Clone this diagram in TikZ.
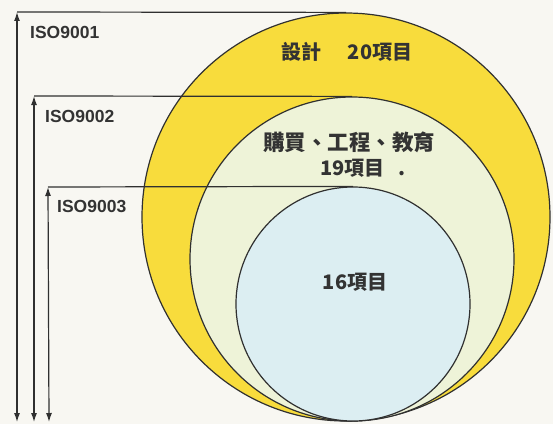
\documentclass[tikz,border=0pt]{standalone}
\usepackage{fontspec}
\setsansfont{Liberation Sans}
\newfontfamily\cjk{Noto Sans CJK TC}
\usetikzlibrary{arrows.meta}
\definecolor{bgc}{HTML}{F8F7F2}
\definecolor{yel}{HTML}{F8DC3C}
\definecolor{pale}{HTML}{EEF3D8}
\definecolor{blu}{HTML}{DCEEF2}
\definecolor{ink}{HTML}{303030}
\definecolor{txt}{HTML}{333333}
\begin{document}
\begin{tikzpicture}[x=1pt,y=1pt,
  ring/.style={circle,draw=ink,line width=1.2pt,inner sep=0pt},
  isolabel/.style={anchor=west,inner sep=0pt,text=txt,font=\sffamily\bfseries\fontsize{17.5}{17.5}\selectfont},
  cjklabel/.style={inner sep=0pt,text=txt,font=\cjk\bfseries\fontsize{20}{20}\selectfont},
  lead/.style={draw=ink,line width=1.2pt},
  bothtips/.style={{Latex[length=9pt,width=6pt]}-{Latex[length=9pt,width=6pt]}}]
\useasboundingbox (0,0) rectangle (553,424);
\fill[bgc] (0,0) rectangle (553,424);
% circles
\node[ring,fill=yel,minimum size=408pt] (c1) at (346,207) {};
\node[ring,fill=pale,minimum size=324pt] (c2) at (352,165) {};
\node[ring,fill=blu,minimum size=234pt] (c3) at (353,120) {};
% corners and ends
\coordinate (k1) at (17,412);
\coordinate (k2) at (34,328);
\coordinate (k3) at (48,237);
\coordinate (b1) at (17,2);
\coordinate (b2) at (34,2);
\coordinate (b3) at (49,2);
% leaders
\draw[lead] (k1) -- (c1.north);
\draw[lead] (k2) -- (c2.north);
\draw[lead] (k3) -- (c3.north);
\draw[lead,bothtips] (b1) -- (k1);
\draw[lead,bothtips] (b2) -- (k2);
\draw[lead,bothtips] (b3) -- (k3);
% labels
\node[isolabel] (l1) at (30,392) {ISO9001};
\node[isolabel] (l2) at (45,308) {ISO9002};
\node[isolabel] (l3) at (57,218) {ISO9003};
\node[cjklabel] (t1) at (347,372) {設計\hspace{26pt}20項目};
\node[cjklabel,font=\cjk\bfseries\fontsize{21.5}{21.5}\selectfont] (t2) at (349,282) {購買、工程、教育};
\node[cjklabel,anchor=west] (t3) at (320,256) {19項目\hspace{14pt}.};
\node[cjklabel] (t4) at (355,142) {16項目};
\end{tikzpicture}
\end{document}
